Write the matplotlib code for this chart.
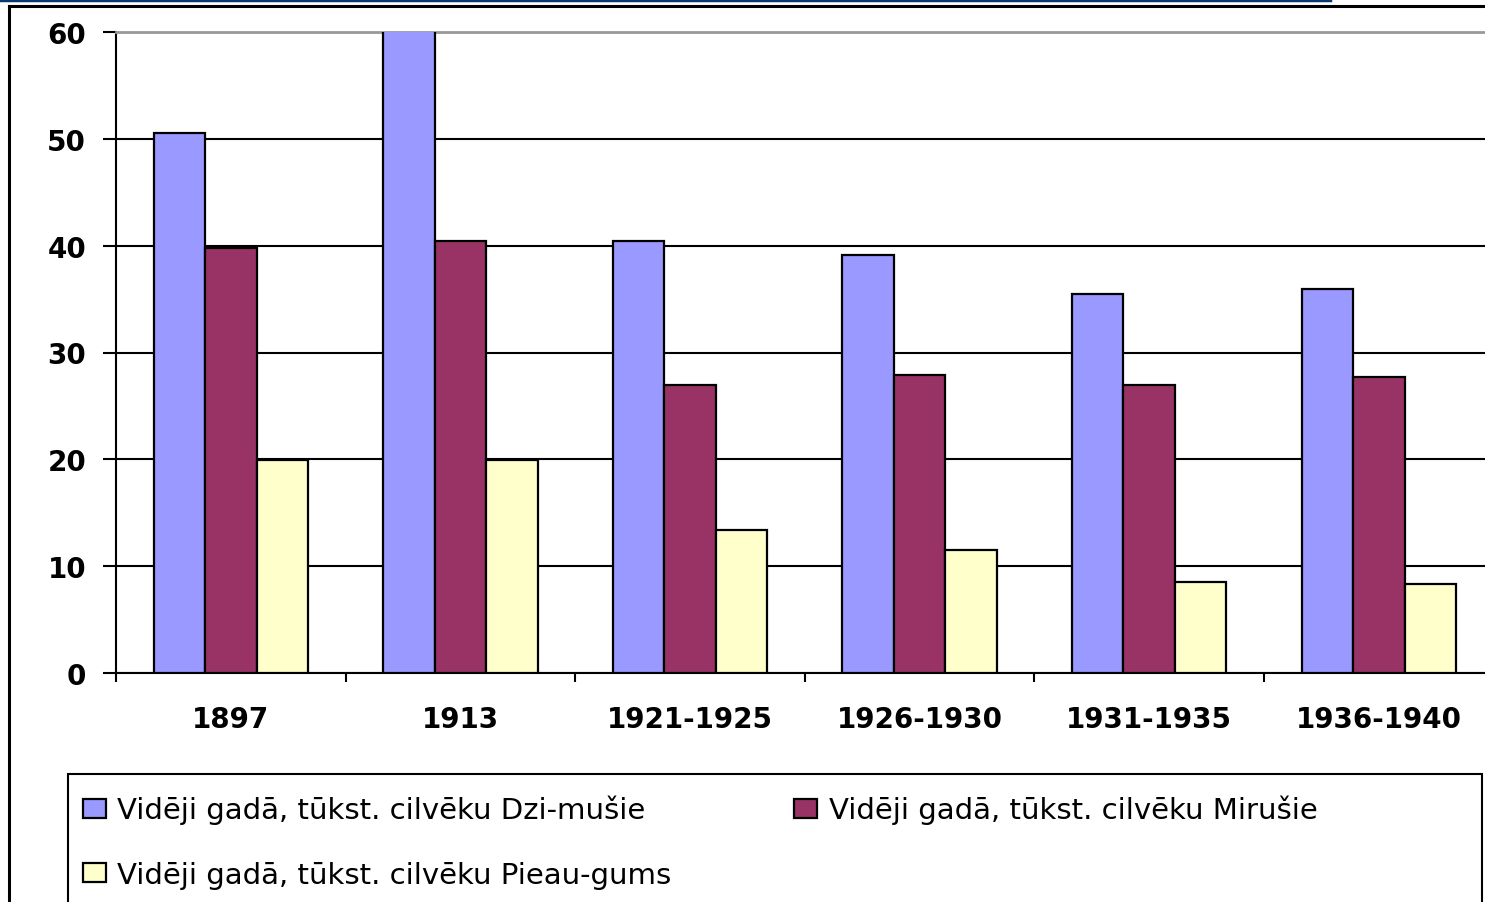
import numpy as np
import matplotlib.pyplot as plt
from matplotlib.patches import Rectangle
from matplotlib.lines import Line2D

plt.rcParams['font.family'] = ['DejaVu Sans']

periods = ["1897", "1913", "1921-1925", "1926-1930", "1931-1935", "1936-1940"]
dzimusie = [50.5, 60.2, 40.4, 39.1, 35.5, 35.9]
mirusie = [39.8, 40.4, 27.0, 27.9, 27.0, 27.7]
pieaugums = [19.9, 19.9, 13.4, 11.5, 8.5, 8.3]
labels = ["Vidēji gadā, tūkst. cilvēku Dzi-mušie",
          "Vidēji gadā, tūkst. cilvēku Mirušie",
          "Vidēji gadā, tūkst. cilvēku Pieau-gums"]
colors = ["#9999FF", "#993366", "#FFFFCC"]

W, H = 1485, 903
fig = plt.figure(figsize=(W/100, H/100), dpi=100)
ax = fig.add_axes([116/W, (H-674)/H, 1377.6/W, 641/H])

x = np.arange(len(periods)) + 0.5
bw = 0.224
bars = []
for k, vals in enumerate([dzimusie, mirusie, pieaugums]):
    b = ax.bar(x + (k-1)*bw, vals, bw, color=colors[k], edgecolor="black",
               linewidth=1.6, label=labels[k], zorder=3)
    bars.append(b)

ax.set_xlim(0, len(periods))
ax.set_ylim(0, 60)
ax.set_yticks(range(0, 61, 10))
ax.yaxis.grid(True, color="black", linewidth=1.5, zorder=0)
ax.set_axisbelow(True)

ax.set_xticks(np.arange(len(periods)+1))
ax.set_xticklabels([])
ax.set_xticks(x, minor=True)
ax.set_xticklabels(periods, minor=True)
ax.tick_params(axis="x", which="major", length=6.5, width=1.5, direction="out")
ax.tick_params(axis="x", which="minor", length=0, pad=23, labelsize=20)
ax.tick_params(axis="y", length=9.5, width=1.5, pad=12, labelsize=20)
for lab in ax.get_xticklabels(minor=True) + ax.get_yticklabels():
    lab.set_fontweight("bold")

ax.spines["right"].set_visible(False)
ax.spines["top"].set_color("#999999")
ax.spines["top"].set_linewidth(2)
ax.spines["left"].set_linewidth(1.5)
ax.spines["bottom"].set_linewidth(1.5)

# outer chart frame and top strip
fig.add_artist(Line2D([0, 1330/W], [1-1/H, 1-1/H], color="#0a3a6b", linewidth=2.5))
fig.add_artist(Line2D([9/W, 1], [1-7/H, 1-7/H], color="black", linewidth=2.2))
fig.add_artist(Line2D([9/W, 9/W], [0, 1-7/H], color="black", linewidth=2.2))

# legend box
fig.add_artist(Rectangle((68/W, -10/H), (1482-68)/W, (H-775+10)/H,
                         transform=fig.transFigure, fill=False,
                         edgecolor="black", linewidth=1.5))
fig.legend([bars[0], bars[2], bars[1]], [labels[0], labels[2], labels[1]],
           ncol=2, loc="upper left", bbox_to_anchor=(83/W, 1-796/H),
           frameon=False, fontsize=21, borderpad=0, borderaxespad=0,
           handlelength=0.78, handleheight=0.62, handletextpad=0.4,
           labelspacing=1.24, columnspacing=4.2)

fig.savefig("out.png", dpi=100)
